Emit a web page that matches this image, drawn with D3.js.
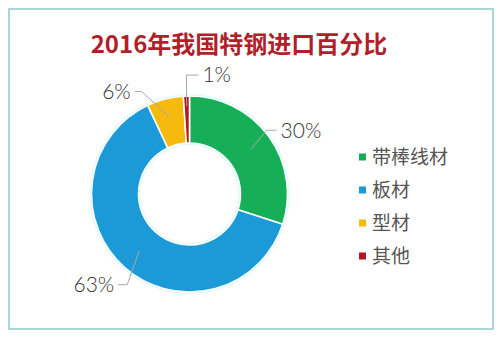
<!DOCTYPE html>
<html><head><meta charset="utf-8">
<script src="https://cdn.jsdelivr.net/npm/d3@7/dist/d3.min.js"></script>
<style>html,body{margin:0;padding:0;background:#fff;}svg{display:block;}</style>
</head><body>
<script>
const titleText = "2016年我国特钢进口百分比";
const categories = ["带棒线材", "板材", "型材", "其他"];
const values = [30, 63, 6, 1];
const valueLabels = ["30%", "63%", "6%", "1%"];
const colors = ["#12ae56", "#1a9ad8", "#f6b90a", "#b5131f"];

const W = 502, H = 342;
const cx = 189.5, cy = 194, R = 98, r0 = 51;
// leader layout: [start radius, elbow angle(deg), elbow radius, horizontal dir, horizontal len]
const leader = [
  [76, 50.4, 100, 1, 10],
  [76, 214.5, 110, -1, 9],
  [79, 335, 113, -1, 7],
  [88, 358.5, 119, 1, 12]
];

const svg = d3.select("body").append("svg").attr("width", W).attr("height", H);
const defs = svg.append("defs");
const f = defs.append("filter").attr("id","glow").attr("x","-20%").attr("y","-20%").attr("width","140%").attr("height","140%");
f.append("feDropShadow").attr("dx",0).attr("dy",0).attr("stdDeviation",1.2).attr("flood-color","#8ff0e6").attr("flood-opacity",0.9);

svg.append("rect").attr("x",9).attr("y",9).attr("width",484).attr("height",320)
  .attr("fill","#fff").attr("stroke","#a9d7d8").attr("stroke-width",2);

svg.append("text").attr("x",239).attr("y",53).attr("text-anchor","middle")
  .attr("font-family","'Noto Sans CJK SC'").attr("font-weight",700).attr("font-size",24)
  .attr("fill","#b01f2a").text(titleText);

const pie = d3.pie().sort(null).value(d => d)(values);
const arc = d3.arc().innerRadius(r0).outerRadius(R);
const g = svg.append("g").attr("transform",`translate(${cx},${cy})`);
g.append("g").attr("filter","url(#glow)").selectAll("path").data(pie).join("path")
  .attr("d", arc).attr("fill",(d,i)=>colors[i]).attr("stroke","#fff").attr("stroke-width",1.6);

const polar = (deg, rad) => { const a = deg*Math.PI/180; return [Math.sin(a)*rad, -Math.cos(a)*rad]; };
const lg = g.append("g");
pie.forEach((d,i) => {
  const mid = (d.startAngle + d.endAngle)/2 * 180/Math.PI;
  const [sr, ea, er, dir, len] = leader[i];
  const p0 = polar(mid, sr), p1 = polar(ea, er), p2 = [p1[0]+dir*len, p1[1]];
  lg.append("path").attr("d", d3.line()([p0,p1,p2])).attr("fill","none")
    .attr("stroke","#a8a8a8").attr("stroke-width",1);
  lg.append("text").attr("x", p2[0] + dir*4).attr("y", p2[1]).attr("dy","0.35em")
    .attr("text-anchor", dir>0 ? "start" : "end")
    .attr("font-family","Lato").attr("font-weight",300).attr("font-size",21)
    .attr("fill","#333").text(valueLabels[i]);
});

const leg = svg.append("g").attr("transform","translate(359,157)");
const rowH = 33;
categories.forEach((c,i) => {
  leg.append("rect").attr("x",0).attr("y",i*rowH-3.5).attr("width",7).attr("height",7).attr("fill",colors[i]);
  leg.append("text").attr("x",13).attr("y",i*rowH).attr("dy","0.36em")
    .attr("font-family","'Noto Sans CJK SC'").attr("font-size",19).attr("fill","#555").text(c);
});
</script>
</body></html>
